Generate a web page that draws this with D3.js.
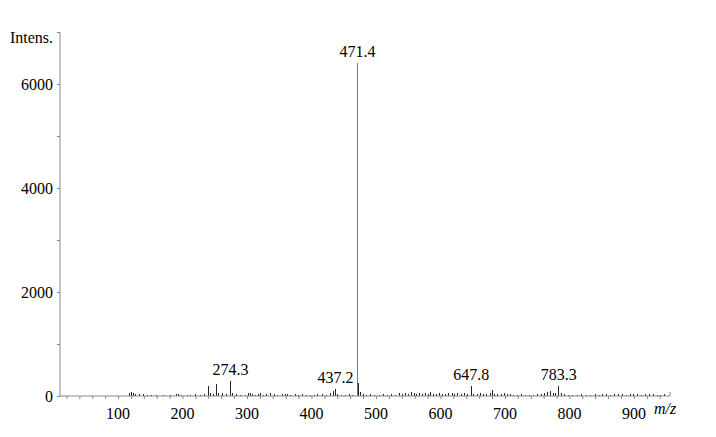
<!DOCTYPE html>
<html><head><meta charset="utf-8">
<script src="https://cdn.jsdelivr.net/npm/d3@7"></script>
<style>body{margin:0;background:#fff}svg{display:block}</style>
</head><body>
<svg id="c" width="716" height="437"></svg>
<script>
// m/z values and intensities of spectrum sticks
const peakMz = [118,121,124,127,133,140,146,152,160,170,181,190,193,199,207,213,220,228,234,240,244,248,252,256,262,268,274.3,278,283,290,298,302,305,308,313,318,321,326,331,336,342,348,355,359,363,368,375,380,386,392,398,404,410,417,424,430,434,437.2,441,446,452,459,464,471.0,472.0,473.5,476,480,486,492,498,505,512,518,524,530,536,541,546,551,555,559,563,568,572,577,581,585,589,594,599,603,608,613,618,622,627,632,637,642,647.8,652,657,662,667,672,677,680,684,689,694,699,704,709,714,720,726,732,738,744,750,756,762,766,770,775,779,783.3,787,792,798,805,812,819,826,833,840,846,852,858,864,870,876,882,888,894,900,906,912,918,924,930,936,942,948];
const peakInt = [60,80,50,40,30,35,25,20,15,15,20,30,40,20,25,15,30,25,45,200,60,40,230,50,60,40,290,50,30,20,25,60,55,40,20,35,50,25,40,55,30,25,45,35,30,20,40,20,45,15,20,25,35,30,20,60,100,130,40,25,20,30,25,4950,1650,250,80,40,25,30,20,25,30,20,35,25,60,40,55,45,70,60,40,50,35,60,40,70,30,45,50,35,40,55,60,30,50,40,55,45,190,40,30,50,35,45,60,115,45,30,40,50,35,30,25,20,30,15,25,20,30,40,50,70,90,60,50,190,60,30,20,25,15,30,20,25,35,25,30,40,25,35,45,30,20,40,30,45,25,35,30,40,25,20,30];
// base peak
const basePeakMz = [471.4];
const basePeakInt = [6400];
// annotated peaks
const labelMz = [274.3, 437.2, 471.4, 647.8, 783.3];
const labelText = ["274.3", "437.2", "471.4", "647.8", "783.3"];
const labelInt = [290, 130, 6400, 190, 190];
const xMajorTicks = [100,200,300,400,500,600,700,800,900];
const yMajorTicks = [0,2000,4000,6000];

const svg = d3.select("#c");
const x = d3.scaleLinear().domain([10, 956]).range([60, 670]);
const y = d3.scaleLinear().domain([0, 7000]).range([396, 32]);
const font = "Liberation Serif, Times New Roman, serif";
const SY = 1.1;
function txt(sel, px, py) {
  return sel.attr("transform", (d, i) => `translate(${typeof px === "function" ? px(d, i) : px},${typeof py === "function" ? py(d, i) : py}) scale(1,${SY})`)
    .attr("font-family", font).attr("font-size", 16).attr("fill", "#000");
}

// spectrum sticks
const g = svg.append("g");
g.selectAll("line.p").data(d3.zip(peakMz, peakInt)).join("line")
  .attr("x1", d => x(d[0])).attr("x2", d => x(d[0]))
  .attr("y1", y(0)).attr("y2", d => y(d[1]))
  .attr("stroke", "#222").attr("stroke-width", 1).attr("shape-rendering","crispEdges");
g.selectAll("line.b").data(d3.zip(basePeakMz, basePeakInt)).join("line")
  .attr("x1", d => x(d[0])).attr("x2", d => x(d[0]))
  .attr("y1", y(0)).attr("y2", d => y(d[1]))
  .attr("stroke", "#777").attr("stroke-width", 1).attr("shape-rendering","crispEdges");

// x axis
const xAxis = d3.axisBottom(x).tickValues(d3.range(20, 956, 20)).tickSize(3).tickFormat("");
const xa = svg.append("g").attr("transform", `translate(0,${y(0)})`).call(xAxis);
xa.select(".domain").attr("stroke", "#888").attr("d", `M60,0H670V-4`);
xa.selectAll(".tick line").attr("stroke", "#888");
txt(svg.append("g").selectAll("text").data(xMajorTicks).join("text"), d => x(d), 419)
  .attr("text-anchor", "middle").text(d => d);
txt(svg.append("text"), 654, 414).attr("font-style", "italic").text("m/z");

// y axis
const yAxis = d3.axisLeft(y).tickValues(d3.range(0, 7001, 1000)).tickSize(3).tickFormat("");
const ya = svg.append("g").attr("transform", `translate(60,0)`).call(yAxis);
ya.select(".domain").attr("stroke", "#888").attr("d", `M0,${y(0)}V${y(7000)}`);
ya.selectAll(".tick line").attr("stroke", "#888");
txt(svg.append("g").selectAll("text").data(yMajorTicks).join("text"), 53, d => y(d) + 6)
  .attr("text-anchor", "end").text(d => d);
txt(svg.append("text"), 10, 43).text("Intens.");

// peak labels
txt(svg.append("g").selectAll("text").data(d3.zip(labelMz, labelText, labelInt)).join("text"),
    d => x(d[0]), d => y(d[2]) - 6)
  .attr("text-anchor", "middle").text(d => d[1]);
</script>
</body></html>
